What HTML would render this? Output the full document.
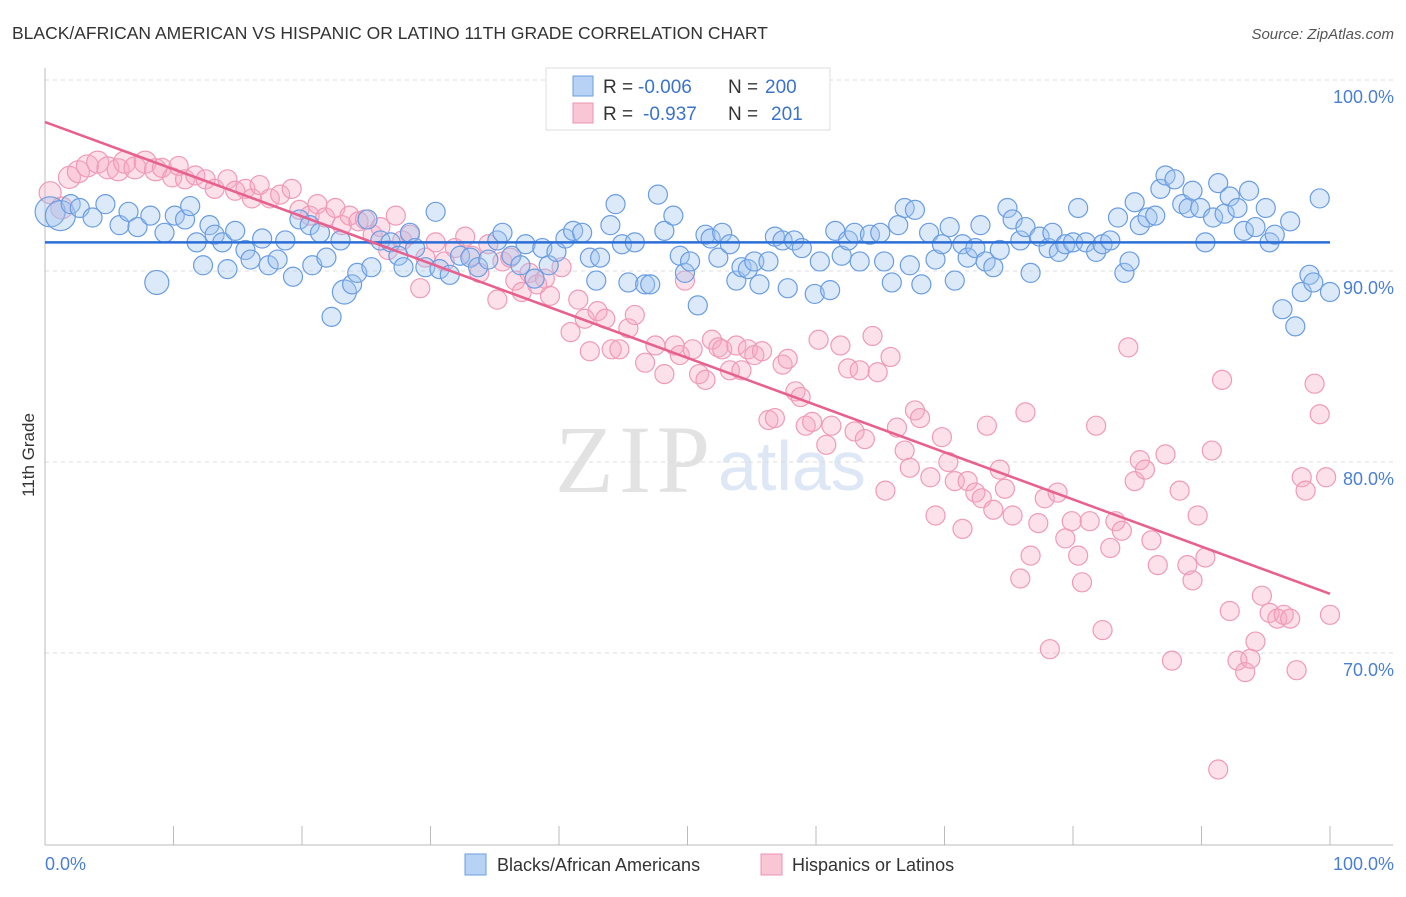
<!DOCTYPE html>
<html><head><meta charset="utf-8"><style>
body{margin:0;background:#fff;font-family:"Liberation Sans",sans-serif}
</style></head><body>
<svg id="c" width="1406" height="892" xmlns="http://www.w3.org/2000/svg" font-family="Liberation Sans, sans-serif">
<text x="12" y="39" font-size="17.5" fill="#333">BLACK/AFRICAN AMERICAN VS HISPANIC OR LATINO 11TH GRADE CORRELATION CHART</text>
<text x="1394" y="39" font-size="15" fill="#555" font-style="italic" text-anchor="end">Source: ZipAtlas.com</text>
<text x="555" y="492" font-size="96" fill="#e2e2e2" style="font-family:'Liberation Serif',serif" textLength="155">ZIP</text>
<text x="718" y="490" font-size="70" fill="#dde7f5">atlas</text>
<g id="grid"></g><g id="pts"></g><g id="lines"></g>
<text transform="translate(34,455) rotate(-90)" font-size="17" fill="#333" text-anchor="middle">11th Grade</text>
<text x="45" y="870" font-size="18" fill="#4a7fd4">0.0%</text>
<text x="1394" y="870" font-size="18" fill="#4a7fd4" text-anchor="end">100.0%</text>
<g>
<rect x="546" y="68" width="284" height="62" fill="#fff" stroke="#ddd"/>
<rect x="573" y="76" width="20" height="20" fill="#b8d2f5" stroke="#6b9de0"/>
<text x="603" y="93" font-size="19" fill="#333">R =</text>
<text x="638" y="93" font-size="19" fill="#3b73cc">-0.006</text>
<text x="728" y="93" font-size="19" fill="#333">N =</text>
<text x="765" y="93" font-size="19" fill="#3b73cc">200</text>
<rect x="573" y="103" width="20" height="20" fill="#f9c6d6" stroke="#ec92b0"/>
<text x="603" y="120" font-size="19" fill="#333">R =</text>
<text x="643" y="120" font-size="19" fill="#3b73cc">-0.937</text>
<text x="728" y="120" font-size="19" fill="#333">N =</text>
<text x="771" y="120" font-size="19" fill="#3b73cc">201</text>
</g>
<g><rect x="465" y="854" width="21" height="21" fill="#b8d2f5" stroke="#6b9de0"/><text x="497" y="871" font-size="18" fill="#333">Blacks/African Americans</text></g>
<g><rect x="761" y="854" width="21" height="21" fill="#f9c6d6" stroke="#ec92b0"/><text x="792" y="871" font-size="18" fill="#333">Hispanics or Latinos</text></g>
</svg>
<script>
const yTicks=[100,90,80,70];
const yTickLabels=["100.0%","90.0%","80.0%","70.0%"];
const xTicks=[0,10,20,30,40,50,60,70,80,90,100];
const blueX=[0.4,1.2,2.0,2.7,3.7,4.7,5.8,6.5,7.2,8.2,8.7,9.3,10.1,10.9,11.3,11.8,12.3,12.8,13.2,13.8,14.2,14.8,15.6,16.0,16.9,17.4,18.1,18.7,19.3,19.8,20.6,20.8,21.4,21.9,22.3,23.0,23.3,23.9,24.3,25.1,25.4,26.1,26.9,27.5,27.9,28.4,28.8,29.6,30.4,30.7,31.5,32.3,33.1,33.7,34.5,35.2,35.6,36.3,37.0,37.4,38.1,38.7,39.2,39.8,40.5,41.1,41.8,42.4,42.9,43.2,44.0,44.4,44.9,45.4,45.9,46.7,47.1,47.7,48.2,48.9,49.4,49.8,50.2,50.8,51.4,51.8,52.4,52.7,53.3,53.8,54.2,54.7,55.2,55.6,56.3,56.8,57.4,57.8,58.3,58.9,59.9,60.3,61.1,61.5,62.0,62.5,63.0,63.4,64.2,65.0,65.3,65.9,66.4,66.9,67.3,67.7,68.2,68.8,69.3,69.8,70.4,70.8,71.4,71.8,72.4,72.8,73.2,73.8,74.3,74.9,75.3,75.9,76.3,76.7,77.4,78.1,78.4,78.9,79.4,80.0,80.4,81.0,81.8,82.3,82.9,83.5,84.0,84.4,84.8,85.2,85.8,86.4,86.8,87.2,87.9,88.5,89.0,89.3,89.9,90.3,90.9,91.3,91.8,92.2,92.8,93.3,93.7,94.2,95.0,95.3,95.7,96.3,96.9,97.3,97.8,98.4,98.7,99.2,100.0];
const blueY=[93.1,92.9,93.5,93.3,92.8,93.5,92.4,93.1,92.3,92.9,89.4,92.0,92.9,92.7,93.4,91.5,90.3,92.4,91.9,91.5,90.1,92.1,91.1,90.6,91.7,90.3,90.6,91.6,89.7,92.7,92.4,90.3,92.0,90.7,87.6,91.6,88.9,89.3,89.9,92.7,90.2,91.6,91.5,90.8,90.2,92.0,91.2,90.2,93.1,90.1,89.8,90.8,90.7,90.2,90.6,91.6,92.0,90.8,90.3,91.4,89.6,91.2,90.3,91.0,91.7,92.1,92.0,90.7,89.5,90.7,92.4,93.5,91.4,89.4,91.5,89.3,89.3,94.0,92.1,92.9,90.8,89.9,90.5,88.2,91.9,91.7,90.7,92.0,91.4,89.5,90.2,90.1,90.5,89.3,90.5,91.8,91.6,89.1,91.6,91.2,88.8,90.5,89.0,92.1,90.8,91.6,92.0,90.5,91.9,92.0,90.5,89.4,92.4,93.3,90.3,93.2,89.3,92.0,90.6,91.4,92.3,89.5,91.4,90.7,91.2,92.4,90.5,90.2,91.1,93.3,92.7,91.6,92.3,89.9,91.8,91.2,92.0,91.0,91.4,91.5,93.3,91.5,91.0,91.4,91.6,92.8,89.9,90.5,93.6,92.4,92.8,92.9,94.3,95.0,94.8,93.5,93.3,94.2,93.3,91.5,92.8,94.6,93.0,93.9,93.3,92.1,94.2,92.3,93.3,91.5,91.9,88.0,92.6,87.1,88.9,89.8,89.4,93.8,88.9];
const pinkX=[0.4,1.3,1.9,2.6,3.3,4.1,4.9,5.7,6.2,7.0,7.8,8.6,9.1,9.9,10.4,10.9,11.7,12.5,13.2,14.2,14.8,15.6,16.1,16.7,17.5,18.3,19.2,19.8,20.6,21.2,21.8,22.6,23.1,23.7,24.4,24.9,25.5,26.1,26.7,27.3,27.8,28.4,29.2,29.6,30.4,31.1,31.9,32.7,33.2,33.8,34.5,35.2,35.6,36.2,36.6,37.1,37.7,38.3,38.9,39.3,40.2,40.9,41.5,42.0,42.4,43.0,43.6,44.1,44.7,45.4,45.9,46.7,47.5,48.2,49.0,49.4,49.8,50.4,50.9,51.4,51.9,52.4,52.7,53.3,53.8,54.2,54.7,55.2,55.8,56.3,56.8,57.4,57.8,58.4,58.8,59.2,59.7,60.2,60.8,61.2,61.9,62.5,63.0,63.4,63.8,64.4,64.8,65.4,65.8,66.3,66.9,67.3,67.7,68.1,68.9,69.3,69.8,70.3,70.8,71.4,71.8,72.4,72.9,73.3,73.8,74.3,74.7,75.3,75.9,76.3,76.7,77.3,77.8,78.2,78.8,79.4,79.9,80.4,80.7,81.3,81.8,82.3,82.9,83.3,83.8,84.3,84.8,85.2,85.6,86.1,86.6,87.2,87.7,88.3,88.9,89.3,89.7,90.3,90.8,91.3,91.6,92.2,92.8,93.4,93.8,94.2,94.7,95.3,95.9,96.4,96.9,97.4,97.8,98.1,98.8,99.2,99.7,100];
const pinkY=[94.1,93.3,94.9,95.2,95.5,95.7,95.4,95.3,95.7,95.4,95.7,95.3,95.4,94.9,95.5,94.8,95.0,94.8,94.3,94.8,94.2,94.3,93.8,94.5,93.8,94.0,94.3,93.2,92.9,93.5,92.8,93.3,92.4,92.9,92.6,92.7,91.9,92.3,91.1,92.9,91.6,91.9,89.1,90.7,91.5,90.5,91.2,91.8,90.8,89.9,91.4,88.5,90.5,90.7,89.5,88.9,89.9,89.3,89.6,88.7,90.2,86.8,88.5,87.5,85.8,87.9,87.5,85.9,85.9,87.0,87.7,85.2,86.1,84.6,86.1,85.6,89.5,85.9,84.6,84.3,86.4,86.0,85.9,84.8,86.1,84.8,85.9,85.6,85.8,82.2,82.3,85.1,85.4,83.7,83.4,81.9,82.1,86.4,80.9,81.9,86.1,84.9,81.6,84.8,81.2,86.6,84.7,78.5,85.5,81.8,80.6,79.7,82.7,82.3,79.2,77.2,81.3,80.0,79.0,76.5,79.0,78.4,78.1,81.9,77.5,79.6,78.6,77.2,73.9,82.6,75.1,76.8,78.1,70.2,78.4,76.0,76.9,75.1,73.7,76.9,81.9,71.2,75.5,76.9,76.4,86.0,79.0,80.1,79.6,75.9,74.6,80.4,69.6,78.5,74.6,73.8,77.2,75.0,80.6,63.9,84.3,72.2,69.6,69.0,69.7,70.6,73.0,72.1,71.8,72.0,71.8,69.1,79.2,78.5,84.1,82.5,79.2,72.0];
const blueTrend=[91.5,91.5];
const pinkTrend=[97.8,73.1];
const X0=45,X1=1330,Y100=80,PX10=19.1;
const sx=v=>X0+(X1-X0)*v/100;
const sy=v=>Y100+(100-v)*PX10;
const NS="http://www.w3.org/2000/svg";
function mk(t,a,p){const e=document.createElementNS(NS,t);for(const k in a)e.setAttribute(k,a[k]);p.appendChild(e);return e;}
const grid=document.getElementById('grid');
yTicks.forEach((v,i)=>{
 const l=mk('line',{x1:45,x2:1393,y1:sy(v),y2:sy(v),stroke:'#ddd','stroke-dasharray':'4,4'},grid);
 
 
 const t=mk('text',{x:1394,y:sy(v)+23,'font-size':18,fill:'#4a7fd4','text-anchor':'end'},grid);
 t.textContent=yTickLabels[i];
 
 
});
const ax=mk('line',{x1:45,x2:45,y1:68,y2:845,stroke:'#bbb'},grid);


const bx=mk('line',{x1:45,x2:1393,y1:845,y2:845,stroke:'#bbb'},grid);


xTicks.forEach(v=>{
 const t=mk('line',{x1:sx(v),x2:sx(v),y1:826,y2:845,stroke:'#bbb'},grid);
 
 
});
const pts=document.getElementById('pts');
pinkX.forEach((x,i)=>{
 const c=mk('circle',{cx:sx(x),cy:sy(pinkY[i]),r:i<12?11:9.5,fill:'rgba(246,170,196,0.35)',stroke:'#f09ab8','stroke-width':1.2},pts);
 
 
});
blueX.forEach((x,i)=>{
 const c=mk('circle',{cx:sx(x),cy:sy(blueY[i]),r:i<2?15:(i==10||i==36?12:9.5),fill:'rgba(160,196,240,0.38)',stroke:'#6a9de2','stroke-width':1.2},pts);
 
 
});
const lines=document.getElementById('lines');
const bl=mk('line',{x1:sx(0),x2:sx(100),y1:sy(blueTrend[0]),y2:sy(blueTrend[1]),stroke:'#2b6fd6','stroke-width':2.5},lines);


const pl=mk('line',{x1:sx(0),x2:sx(100),y1:sy(pinkTrend[0]),y2:sy(pinkTrend[1]),stroke:'#e8608e','stroke-width':2.5},lines);


</script>
</body></html>
